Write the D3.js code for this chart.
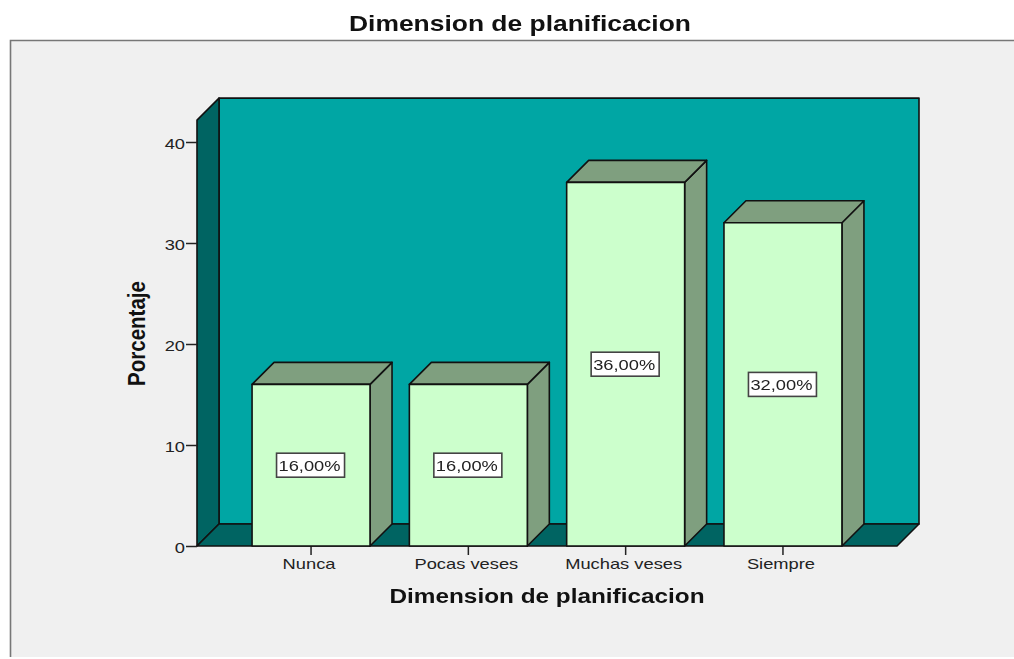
<!DOCTYPE html>
<html>
<head>
<meta charset="utf-8">
<script src="https://cdn.jsdelivr.net/npm/d3@7"></script>
<style>
  html, body { margin: 0; padding: 0; background: #fff; overflow: hidden; }
  svg { display: block; filter: blur(0.4px); }
  text { font-family: "Liberation Sans", Arial, sans-serif; }
</style>
</head>
<body>
<script>
var categories = ["Nunca", "Pocas veses", "Muchas veses", "Siempre"];
var values = [16, 16, 36, 32];
var valueLabels = ["16,00%", "16,00%", "36,00%", "32,00%"];
var yTicks = [0, 10, 20, 30, 40];

var width = 1014, height = 659;
var left = 197, right = 897, bottom = 546;
var depth = 22;

var svg = d3.select("body").append("svg")
  .attr("width", width)
  .attr("height", height);

// chart area
svg.append("rect")
  .attr("x", 10).attr("y", 40)
  .attr("width", width - 10).attr("height", height - 42)
  .attr("fill", "#f0f0f0");
svg.append("path")
  .attr("d", "M10.5," + (height - 2) + "V40.5H" + width)
  .attr("fill", "none")
  .attr("stroke", "#777")
  .attr("stroke-width", 1.6);

var y = d3.scaleLinear().domain([0, 40]).range([bottom, 142]);
var top3d = y(42.17);
var x = d3.scaleBand().domain(categories).range([left, right])
  .paddingInner(0.25).paddingOuter(0.35);

var lineColor = "#111";

function poly(pts, fill) {
  return svg.append("path")
    .attr("d", "M" + pts.map(function(p){ return p.join(","); }).join("L") + "Z")
    .attr("fill", fill)
    .attr("stroke", lineColor)
    .attr("stroke-width", 1.6)
    .attr("stroke-linejoin", "round");
}

// back wall, side wall, floor
poly([[left + depth, top3d - depth], [right + depth, top3d - depth],
      [right + depth, bottom - depth], [left + depth, bottom - depth]], "#00a6a4");
poly([[left, top3d], [left + depth, top3d - depth],
      [left + depth, bottom - depth], [left, bottom]], "#006462");
poly([[left, bottom], [left + depth, bottom - depth],
      [right + depth, bottom - depth], [right, bottom]], "#006462");

// axes
var yAxis = d3.axisLeft(y).tickValues(yTicks).tickSize(11).tickPadding(1);
var xAxis = d3.axisBottom(x).tickSize(9).tickPadding(3);

function styleAxis(g) {
  g.select(".domain").remove();
  g.selectAll("line").attr("stroke", "#222").attr("stroke-width", 1.5);
  g.selectAll("text")
    .attr("fill", "#222")
    .style("font-size", "15px")
    .style("font-family", '"Liberation Sans", Arial, sans-serif')
    .attr("lengthAdjust", "spacingAndGlyphs")
    .attr("textLength", function(){ return this.getComputedTextLength() * 1.22; });
}

svg.append("g").attr("transform", "translate(" + left + ",0)").call(yAxis).call(styleAxis)
  .selectAll("text").attr("dy", "0.42em");
svg.append("g").attr("transform", "translate(0," + bottom + ")").call(xAxis).call(styleAxis)
  .selectAll("text").attr("dx", -2);

// bars
categories.forEach(function(c, i) {
  var x0 = x(c), x1 = x0 + x.bandwidth(), yt = y(values[i]);
  poly([[x1, yt], [x1 + depth, yt - depth], [x1 + depth, bottom - depth], [x1, bottom]], "#7f9f7f");
  poly([[x0, yt], [x0 + depth, yt - depth], [x1 + depth, yt - depth], [x1, yt]], "#7f9f7f");
  poly([[x0, yt], [x1, yt], [x1, bottom], [x0, bottom]], "#ccffcc");
});

// value labels
categories.forEach(function(c, i) {
  var cx = x(c) + x.bandwidth() / 2, cy = y(values[i] / 2);
  svg.append("rect")
    .attr("x", cx - 34.5).attr("y", cy - 12)
    .attr("width", 68).attr("height", 24)
    .attr("fill", "#fff")
    .attr("stroke", "#444")
    .attr("stroke-width", 1.6);
  svg.append("text")
    .attr("x", cx - 1.5).attr("y", cy + 5.5)
    .attr("text-anchor", "middle")
    .attr("textLength", 62).attr("lengthAdjust", "spacingAndGlyphs")
    .attr("fill", "#222")
    .style("font-size", "15px")
    .text(valueLabels[i]);
});

// titles
svg.append("text")
  .attr("x", 520).attr("y", 31)
  .attr("text-anchor", "middle")
  .attr("font-weight", "bold")
  .attr("textLength", 342).attr("lengthAdjust", "spacingAndGlyphs")
  .attr("fill", "#111")
  .style("font-size", "22px")
  .text("Dimension de planificacion");

svg.append("text")
  .attr("x", 547).attr("y", 603)
  .attr("text-anchor", "middle")
  .attr("font-weight", "bold")
  .attr("textLength", 315).attr("lengthAdjust", "spacingAndGlyphs")
  .attr("fill", "#111")
  .style("font-size", "20px")
  .text("Dimension de planificacion");

svg.append("text")
  .attr("transform", "translate(145,333.5) rotate(-90)")
  .attr("text-anchor", "middle")
  .attr("font-weight", "bold")
  .attr("textLength", 105).attr("lengthAdjust", "spacingAndGlyphs")
  .attr("fill", "#111")
  .style("font-size", "23px")
  .text("Porcentaje");
</script>
</body>
</html>
